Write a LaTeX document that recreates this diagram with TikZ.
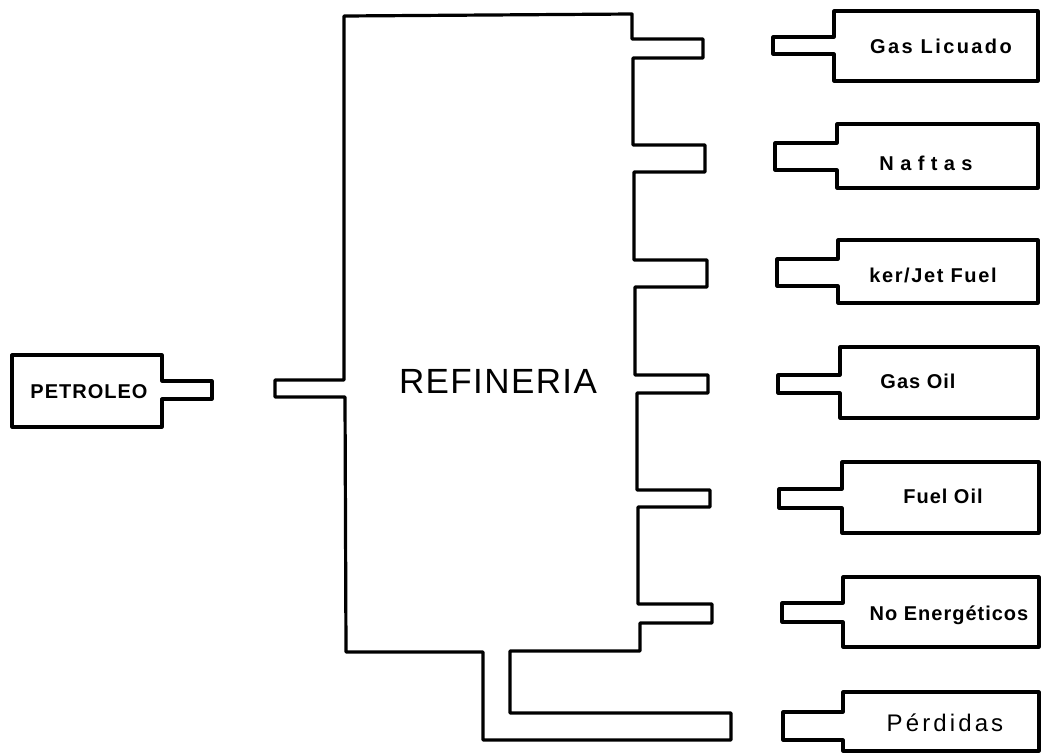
\documentclass[tikz,border=0pt]{standalone}
\usepackage{fontspec}
\setmainfont{Liberation Sans}
\newfontfamily\plotfont[LetterSpace=5]{Liberation Sans Bold}
\newfontfamily\thinfont[LetterSpace=4]{Liberation Sans}
\newcommand{\labelfont}{\plotfont\fontsize{20}{20}\selectfont}

\begin{document}
\begin{tikzpicture}[x=1pt, y=-1pt,
  outline/.style={draw, line width=3.2pt, line join=round},
  lbl/.style={font=\labelfont, anchor=base, inner sep=0pt}]
  \useasboundingbox (0,0) rectangle (1042,753);

  % source
  \draw[outline] (12,355) -- (162,355) -- (162,381) -- (212,381) -- (212,399)
    -- (162,399) -- (162,427) -- (12,427) -- cycle;
  \node[lbl] (petroleo) at (89,398) {PETROLEO};

  % refinery with its outlets
  \draw[outline] (344,16) -- (632,14) -- (632,39) -- (703,39) -- (703,58)
    -- (633,58) -- (633,145) -- (705,145) -- (705,172) -- (634,172)
    -- (634,260) -- (707,260) -- (707,287) -- (635,287) -- (635,375)
    -- (708,375) -- (708,393) -- (637,393) -- (637,490) -- (710,490)
    -- (710,507) -- (638,507) -- (638,604) -- (712,604) -- (712,623)
    -- (640,623) -- (640,651) -- (510,651) -- (510,713) -- (731,713)
    -- (731,740) -- (483,740) -- (483,652) -- (346,652) -- (345,397)
    -- (275,397) -- (275,380) -- (344,380) -- cycle;
  \node[lbl, font=\thinfont\fontsize{35}{35}\selectfont] (refineria) at (498,393) {REFINERIA};

  % products
  \draw[outline] (773,37) -- (834,37) -- (834,11) -- (1038,11) -- (1038,81)
    -- (834,81) -- (834,54) -- (773,54) -- cycle;
  \node[lbl, font=\labelfont\addfontfeature{LetterSpace=12}] (glp) at (941,53) {Gas Licuado};

  \draw[outline] (775,143) -- (837,143) -- (837,124) -- (1038,124) -- (1038,188)
    -- (837,188) -- (837,170) -- (775,170) -- cycle;
  \node[lbl, font=\labelfont\addfontfeature{LetterSpace=32}] (naftas) at (926,170) {Naftas};

  \draw[outline] (777,259) -- (838,259) -- (838,240) -- (1038,240) -- (1038,303)
    -- (838,303) -- (838,286) -- (777,286) -- cycle;
  \node[lbl, font=\labelfont\addfontfeature{LetterSpace=8}] (kerjet) at (933,282) {ker/Jet Fuel};

  \draw[outline] (778,375) -- (840,375) -- (840,347) -- (1038,347) -- (1038,418)
    -- (840,418) -- (840,393) -- (778,393) -- cycle;
  \node[lbl] (gasoil) at (918,388) {Gas Oil};

  \draw[outline] (779,489) -- (842,489) -- (842,462) -- (1039,462) -- (1039,533)
    -- (842,533) -- (842,508) -- (779,508) -- cycle;
  \node[lbl] (fueloil) at (943,503) {Fuel Oil};

  \draw[outline] (782,603) -- (843,603) -- (843,577) -- (1039,577) -- (1039,647)
    -- (843,647) -- (843,622) -- (782,622) -- cycle;
  \node[lbl] (noenerg) at (949,620) {No Energéticos};

  \draw[outline] (783,712) -- (843,712) -- (843,692) -- (1039,692) -- (1039,751)
    -- (843,751) -- (843,740) -- (783,740) -- cycle;
  \node[lbl, font=\thinfont\fontsize{24}{24}\selectfont\addfontfeature{LetterSpace=13}] (perdidas) at (945,731) {Pérdidas};
\end{tikzpicture}
\end{document}
